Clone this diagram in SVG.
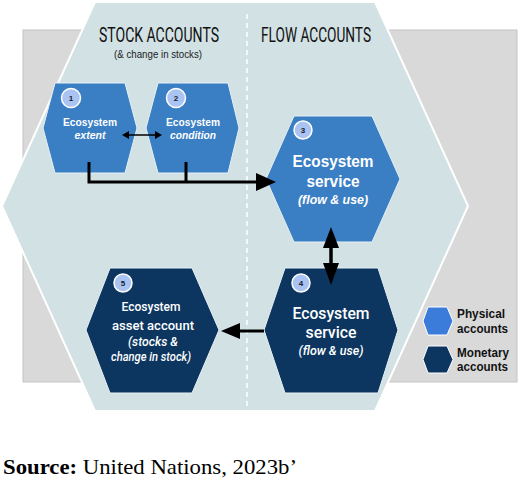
<svg xmlns="http://www.w3.org/2000/svg" width="520" height="481" viewBox="0 0 520 481">
<style>
.phys{fill:#3a7ec4;stroke:#e8f0f4;stroke-width:1}
.mon{fill:#0c3660;stroke:#e8f0f4;stroke-width:1}
.badge{fill:#a9c3f2;stroke:#ffffff;stroke-width:1.5}
.num{font-family:"Liberation Sans",Arial,sans-serif;font-size:8px;font-weight:bold;fill:#1a1a2a;text-anchor:middle}
.t{font-family:"Liberation Sans",Arial,sans-serif;fill:#ffffff;text-anchor:middle;font-weight:bold}
.r{font-family:Roboto,"Liberation Sans",sans-serif;fill:#ffffff;text-anchor:middle;font-weight:500}
.title{font-family:"Liberation Sans Narrow",Roboto,"Liberation Sans",sans-serif;font-size:20px;fill:#111111;text-anchor:middle}
.sub{font-family:"Liberation Sans",Arial,sans-serif;font-size:11px;fill:#222222;text-anchor:middle}
.leg{font-family:"Liberation Sans",Arial,sans-serif;font-size:12.5px;font-weight:bold;fill:#111111}
.line{stroke:#000000;fill:none}
</style>
<rect id="background-panel" x="23" y="30" width="494" height="352" fill="#d9d9d9" stroke="#c4c4c4" stroke-width="1"/>
<g id="frame">
<polygon points="95,2 375,2 468,206 375,411 95,411 2,206" fill="#d1e1e4" stroke="#ffffff" stroke-width="2"/>
<line x1="247" y1="14" x2="247" y2="411" stroke="#ffffff" stroke-width="1.5" stroke-dasharray="5,4"/>
<text class="title" x="159" y="42" textLength="120" lengthAdjust="spacingAndGlyphs">STOCK ACCOUNTS</text>
<text class="sub" x="158" y="58" textLength="88" lengthAdjust="spacingAndGlyphs">(&amp; change in stocks)</text>
<text class="title" x="316" y="42" textLength="110" lengthAdjust="spacingAndGlyphs">FLOW ACCOUNTS</text>
</g>
<g id="node1">
<polygon class="phys" points="55,83 125,83 137,128 125,173 55,173 43,128"/>
<circle class="badge" cx="71" cy="98" r="9.5"/>
<text class="num" x="71" y="101">1</text>
<text class="t" x="90" y="126" font-size="11" textLength="54" lengthAdjust="spacingAndGlyphs">Ecosystem</text>
<text class="t" x="90" y="139" font-size="11" font-style="italic" textLength="31" lengthAdjust="spacingAndGlyphs">extent</text>
</g>
<g id="node2">
<polygon class="phys" points="158,83 228,83 239,128 228,173 158,173 146,128"/>
<circle class="badge" cx="176" cy="98" r="9.5"/>
<text class="num" x="176" y="101">2</text>
<text class="t" x="193" y="126" font-size="11" textLength="54" lengthAdjust="spacingAndGlyphs">Ecosystem</text>
<text class="t" x="193" y="139" font-size="11" font-style="italic" textLength="46" lengthAdjust="spacingAndGlyphs">condition</text>
</g>
<g id="node3">
<polygon class="phys" points="294,116 372,116 400,179 372,242 294,242 266,179"/>
<circle class="badge" cx="303" cy="130" r="9"/>
<text class="num" x="303" y="133">3</text>
<text class="t" x="333" y="167" font-size="16" textLength="81" lengthAdjust="spacingAndGlyphs">Ecosystem</text>
<text class="t" x="333" y="187" font-size="16" textLength="53" lengthAdjust="spacingAndGlyphs">service</text>
<text class="t" x="333" y="204" font-size="12" font-style="italic" textLength="70" lengthAdjust="spacingAndGlyphs">(flow &amp; use)</text>
</g>
<g id="node4">
<polygon class="mon" points="285,268 378,268 398,330 378,393 285,393 264,330"/>
<circle class="badge" cx="301" cy="283" r="9"/>
<text class="num" x="301" y="286">4</text>
<text class="r" x="331" y="319" font-size="16.5" textLength="77" lengthAdjust="spacingAndGlyphs">Ecosystem</text>
<text class="r" x="331" y="338" font-size="16.5" textLength="51" lengthAdjust="spacingAndGlyphs">service</text>
<text class="r" x="331" y="355" font-size="13" font-weight="normal" font-style="italic" textLength="65" lengthAdjust="spacingAndGlyphs">(flow &amp; use)</text>
</g>
<g id="node5">
<polygon class="mon" points="110,268 192,268 219,330 192,393 110,393 86,330"/>
<circle class="badge" cx="123" cy="283" r="9"/>
<text class="num" x="123" y="286">5</text>
<text class="r" x="151" y="311" font-size="13" textLength="59" lengthAdjust="spacingAndGlyphs">Ecosystem</text>
<text class="r" x="153" y="330" font-size="13" textLength="82" lengthAdjust="spacingAndGlyphs">asset account</text>
<text class="r" x="153" y="346" font-size="12" font-style="italic" textLength="50" lengthAdjust="spacingAndGlyphs">(stocks &amp;</text>
<text class="r" x="151" y="361" font-size="12" font-style="italic" textLength="80" lengthAdjust="spacingAndGlyphs">change in stock)</text>
</g>
<g id="connectors">
<polyline class="line" points="89,162 89,182 258,182" stroke-width="3"/>
<line class="line" x1="186" y1="162" x2="186" y2="182" stroke-width="3"/>
<polygon points="256,173 276,182 256,191" fill="#000"/>
<line class="line" x1="127" y1="135" x2="156" y2="135" stroke-width="1.5"/>
<polygon points="122,135 129,131 129,139" fill="#000"/>
<polygon points="162,135 155,131 155,139" fill="#000"/>
<line class="line" x1="331" y1="245" x2="331" y2="266" stroke-width="3.5"/>
<polygon points="331,227 323,248 339,248" fill="#000"/>
<polygon points="331,285 323,263 339,263" fill="#000"/>
<line class="line" x1="238" y1="331" x2="264" y2="331" stroke-width="3"/>
<polygon points="221,331 240,323 240,339" fill="#000"/>
</g>
<g id="legend">
<polygon points="428,307 447,307 453,321 447,335 428,335 423,321" fill="#3b7bda" stroke="#ffffff" stroke-width="1"/>
<text class="leg" x="457" y="318" textLength="48" lengthAdjust="spacingAndGlyphs">Physical</text>
<text class="leg" x="457" y="333" textLength="51" lengthAdjust="spacingAndGlyphs">accounts</text>
<polygon points="428,346 447,346 453,359.5 447,373 428,373 423,359.5" fill="#0c3660" stroke="#ffffff" stroke-width="1"/>
<text class="leg" x="457" y="357" textLength="52" lengthAdjust="spacingAndGlyphs">Monetary</text>
<text class="leg" x="457" y="371" textLength="51" lengthAdjust="spacingAndGlyphs">accounts</text>
</g>
<text x="3" y="474" font-family="'Liberation Serif','Times New Roman',serif" font-size="22" fill="#000" textLength="294" lengthAdjust="spacingAndGlyphs"><tspan font-weight="bold">Source:</tspan> United Nations, 2023b’</text>
</svg>
